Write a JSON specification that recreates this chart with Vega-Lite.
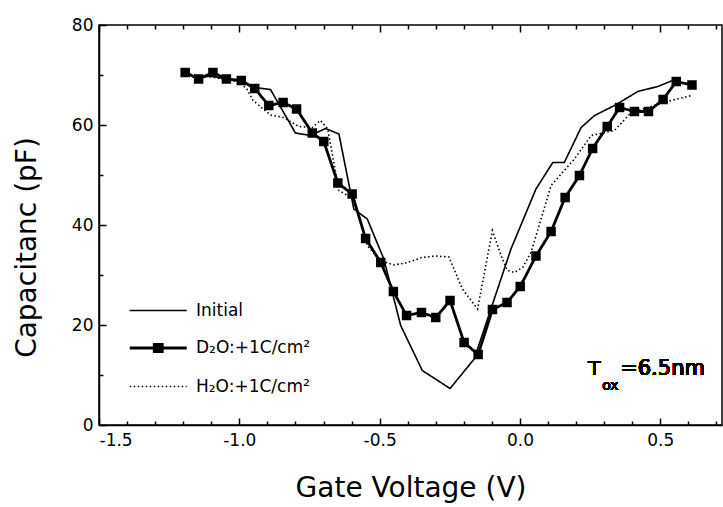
{
  "$schema": "https://vega.github.io/schema/vega-lite/v6.json",
  "width": 623,
  "height": 400,
  "autosize": "none",
  "padding": {"left": 99, "top": 25, "right": 1, "bottom": 82},
  "background": "white",
  "config": {
    "font": "DejaVu Sans",
    "view": {"stroke": "black", "strokeWidth": 1.5},
    "axis": {
      "domainColor": "black", "domainWidth": 1.5, "tickColor": "black", "tickWidth": 1.5,
      "labelColor": "black", "titleColor": "black", "grid": false,
      "labelFont": "DejaVu Sans", "titleFont": "DejaVu Sans", "titleFontWeight": "normal",
      "labelFontSize": 17, "titleFontSize": 28, "labelOverlap": false
    }
  },
  "datasets": {
    "curves": [
      {"s": "Initial", "V": -1.19, "C": 70.3},
      {"s": "Initial", "V": -1.15, "C": 69.5},
      {"s": "Initial", "V": -1.1, "C": 69.8},
      {"s": "Initial", "V": -1.05, "C": 69.2},
      {"s": "Initial", "V": -1.0, "C": 68.8},
      {"s": "Initial", "V": -0.945, "C": 67.5},
      {"s": "Initial", "V": -0.889, "C": 67.1},
      {"s": "Initial", "V": -0.8, "C": 58.4},
      {"s": "Initial", "V": -0.746, "C": 57.9},
      {"s": "Initial", "V": -0.693, "C": 59.3},
      {"s": "Initial", "V": -0.645, "C": 58.2},
      {"s": "Initial", "V": -0.592, "C": 43.2},
      {"s": "Initial", "V": -0.544, "C": 41.2},
      {"s": "Initial", "V": -0.485, "C": 33.2},
      {"s": "Initial", "V": -0.425, "C": 19.9},
      {"s": "Initial", "V": -0.348, "C": 10.9},
      {"s": "Initial", "V": -0.249, "C": 7.3},
      {"s": "Initial", "V": -0.163, "C": 13.2},
      {"s": "Initial", "V": -0.032, "C": 35.2},
      {"s": "Initial", "V": 0.057, "C": 47.2},
      {"s": "Initial", "V": 0.117, "C": 52.5},
      {"s": "Initial", "V": 0.158, "C": 52.5},
      {"s": "Initial", "V": 0.218, "C": 59.5},
      {"s": "Initial", "V": 0.266, "C": 61.9},
      {"s": "Initial", "V": 0.337, "C": 63.9},
      {"s": "Initial", "V": 0.42, "C": 66.7},
      {"s": "Initial", "V": 0.491, "C": 67.7},
      {"s": "Initial", "V": 0.557, "C": 69.2},
      {"s": "D₂O:+1C/cm²", "V": -1.193, "C": 70.5},
      {"s": "D₂O:+1C/cm²", "V": -1.145, "C": 69.2},
      {"s": "D₂O:+1C/cm²", "V": -1.094, "C": 70.5},
      {"s": "D₂O:+1C/cm²", "V": -1.046, "C": 69.2},
      {"s": "D₂O:+1C/cm²", "V": -0.993, "C": 68.9},
      {"s": "D₂O:+1C/cm²", "V": -0.945, "C": 67.3},
      {"s": "D₂O:+1C/cm²", "V": -0.895, "C": 63.9},
      {"s": "D₂O:+1C/cm²", "V": -0.844, "C": 64.5},
      {"s": "D₂O:+1C/cm²", "V": -0.796, "C": 63.2},
      {"s": "D₂O:+1C/cm²", "V": -0.74, "C": 58.4},
      {"s": "D₂O:+1C/cm²", "V": -0.699, "C": 56.7},
      {"s": "D₂O:+1C/cm²", "V": -0.649, "C": 48.4},
      {"s": "D₂O:+1C/cm²", "V": -0.598, "C": 46.2},
      {"s": "D₂O:+1C/cm²", "V": -0.55, "C": 37.3},
      {"s": "D₂O:+1C/cm²", "V": -0.496, "C": 32.5},
      {"s": "D₂O:+1C/cm²", "V": -0.451, "C": 26.7},
      {"s": "D₂O:+1C/cm²", "V": -0.404, "C": 21.9},
      {"s": "D₂O:+1C/cm²", "V": -0.351, "C": 22.5},
      {"s": "D₂O:+1C/cm²", "V": -0.3, "C": 21.5},
      {"s": "D₂O:+1C/cm²", "V": -0.249, "C": 24.9},
      {"s": "D₂O:+1C/cm²", "V": -0.199, "C": 16.5},
      {"s": "D₂O:+1C/cm²", "V": -0.149, "C": 14.1},
      {"s": "D₂O:+1C/cm²", "V": -0.098, "C": 23.1},
      {"s": "D₂O:+1C/cm²", "V": -0.046, "C": 24.5},
      {"s": "D₂O:+1C/cm²", "V": 0.001, "C": 27.7},
      {"s": "D₂O:+1C/cm²", "V": 0.057, "C": 33.8},
      {"s": "D₂O:+1C/cm²", "V": 0.111, "C": 38.7},
      {"s": "D₂O:+1C/cm²", "V": 0.161, "C": 45.5},
      {"s": "D₂O:+1C/cm²", "V": 0.212, "C": 49.9},
      {"s": "D₂O:+1C/cm²", "V": 0.259, "C": 55.3},
      {"s": "D₂O:+1C/cm²", "V": 0.311, "C": 59.7},
      {"s": "D₂O:+1C/cm²", "V": 0.355, "C": 63.5},
      {"s": "D₂O:+1C/cm²", "V": 0.408, "C": 62.7},
      {"s": "D₂O:+1C/cm²", "V": 0.458, "C": 62.7},
      {"s": "D₂O:+1C/cm²", "V": 0.51, "C": 65.1},
      {"s": "D₂O:+1C/cm²", "V": 0.557, "C": 68.7},
      {"s": "D₂O:+1C/cm²", "V": 0.613, "C": 68.0},
      {"s": "H₂O:+1C/cm²", "V": -1.19, "C": 70.2},
      {"s": "H₂O:+1C/cm²", "V": -1.1, "C": 69.6},
      {"s": "H₂O:+1C/cm²", "V": -1.0, "C": 68.6},
      {"s": "H₂O:+1C/cm²", "V": -0.973, "C": 67.2},
      {"s": "H₂O:+1C/cm²", "V": -0.951, "C": 64.9},
      {"s": "H₂O:+1C/cm²", "V": -0.889, "C": 62.0},
      {"s": "H₂O:+1C/cm²", "V": -0.842, "C": 61.5},
      {"s": "H₂O:+1C/cm²", "V": -0.788, "C": 59.7},
      {"s": "H₂O:+1C/cm²", "V": -0.74, "C": 59.5},
      {"s": "H₂O:+1C/cm²", "V": -0.711, "C": 60.9},
      {"s": "H₂O:+1C/cm²", "V": -0.685, "C": 59.2},
      {"s": "H₂O:+1C/cm²", "V": -0.645, "C": 46.9},
      {"s": "H₂O:+1C/cm²", "V": -0.592, "C": 45.2},
      {"s": "H₂O:+1C/cm²", "V": -0.544, "C": 35.9},
      {"s": "H₂O:+1C/cm²", "V": -0.5, "C": 33.0},
      {"s": "H₂O:+1C/cm²", "V": -0.45, "C": 32.0},
      {"s": "H₂O:+1C/cm²", "V": -0.4, "C": 32.5},
      {"s": "H₂O:+1C/cm²", "V": -0.35, "C": 33.5},
      {"s": "H₂O:+1C/cm²", "V": -0.3, "C": 33.8},
      {"s": "H₂O:+1C/cm²", "V": -0.253, "C": 33.6},
      {"s": "H₂O:+1C/cm²", "V": -0.205, "C": 27.2},
      {"s": "H₂O:+1C/cm²", "V": -0.151, "C": 23.2},
      {"s": "H₂O:+1C/cm²", "V": -0.115, "C": 33.9},
      {"s": "H₂O:+1C/cm²", "V": -0.098, "C": 38.9},
      {"s": "H₂O:+1C/cm²", "V": -0.068, "C": 34.0},
      {"s": "H₂O:+1C/cm²", "V": -0.046, "C": 31.0},
      {"s": "H₂O:+1C/cm²", "V": -0.02, "C": 30.5},
      {"s": "H₂O:+1C/cm²", "V": 0.01, "C": 31.5},
      {"s": "H₂O:+1C/cm²", "V": 0.04, "C": 34.6},
      {"s": "H₂O:+1C/cm²", "V": 0.111, "C": 47.9},
      {"s": "H₂O:+1C/cm²", "V": 0.194, "C": 53.2},
      {"s": "H₂O:+1C/cm²", "V": 0.254, "C": 57.9},
      {"s": "H₂O:+1C/cm²", "V": 0.337, "C": 58.9},
      {"s": "H₂O:+1C/cm²", "V": 0.396, "C": 62.5},
      {"s": "H₂O:+1C/cm²", "V": 0.48, "C": 63.9},
      {"s": "H₂O:+1C/cm²", "V": 0.539, "C": 64.9},
      {"s": "H₂O:+1C/cm²", "V": 0.611, "C": 65.9}
    ]
  },
  "data": {"name": "curves"},
  "layer": [
    {
      "mark": {"type": "line", "color": "black"},
      "encoding": {
        "x": {
          "field": "V", "type": "quantitative",
          "scale": {"domain": [-1.5, 0.72], "nice": false, "zero": false},
          "axis": {
            "orient": "bottom",
            "values": [-1.5, -1.4, -1.3, -1.2, -1.1, -1.0, -0.9, -0.8, -0.7, -0.6, -0.5, -0.4, -0.3, -0.2, -0.1, 0, 0.1, 0.2, 0.3, 0.4, 0.5, 0.6, 0.7],
            "labelExpr": "abs(datum.value*2 - round(datum.value*2)) < 0.001 ? replace(format(datum.value, '.1f'), '\u2212', '-') : ''",
            "tickSize": {"condition": {"test": "abs(datum.value*2 - round(datum.value*2)) < 0.001", "value": -7}, "value": -4},
            "labelPadding": 14,
            "title": "Gate Voltage (V)",
            "titleBaseline": "alphabetic",
            "titleY": 71
          }
        },
        "y": {
          "field": "C", "type": "quantitative",
          "scale": {"domain": [0, 80], "nice": false},
          "axis": {
            "values": [0, 10, 20, 30, 40, 50, 60, 70, 80],
            "labelExpr": "datum.value % 20 === 0 ? datum.label : ''",
            "tickSize": {"condition": {"test": "datum.value % 20 === 0", "value": -7}, "value": -4},
            "labelPadding": 13,
            "title": "Capacitanc (pF)",
            "titleBaseline": "alphabetic",
            "titleX": -64,
            "titleY": 222
          }
        },
        "strokeDash": {
          "field": "s", "type": "nominal",
          "scale": {"domain": ["Initial", "D₂O:+1C/cm²", "H₂O:+1C/cm²"], "range": [[1, 0], [1, 0], [1.5, 2.5]]},
          "legend": {
            "orient": "none", "legendX": 29, "legendY": 270, "title": null,
            "labelFont": "DejaVu Sans", "labelFontSize": 17, "labelColor": "black",
            "symbolSize": 812, "labelOffset": 36, "rowPadding": 13, "padding": 0,
            "symbolType": "M-1,0H3", "symbolStrokeColor": "black",
            "encode": {
              "symbols": {
                "update": {
                  "shape": {"signal": "datum.index === 1 ? 'M-1,0H3M0.72,-0.25H1.28V0.25H0.72Z' : 'M-1,0H3'"},
                  "fill": {"value": "black"},
                  "stroke": {"value": "black"},
                  "strokeWidth": {"signal": "datum.index === 1 ? 2.8 : 1.5"}
                }
              }
            }
          }
        },
        "strokeWidth": {
          "field": "s", "type": "nominal",
          "scale": {"type": "ordinal", "domain": ["Initial", "D₂O:+1C/cm²", "H₂O:+1C/cm²"], "range": [1.6, 2.8, 1.6]},
          "legend": null
        }
      }
    },
    {
      "transform": [{"filter": {"field": "s", "equal": "D₂O:+1C/cm²"}}],
      "mark": {"type": "point", "shape": "square", "filled": true, "color": "black", "size": 90, "opacity": 1},
      "encoding": {
        "x": {
          "field": "V", "type": "quantitative",
          "axis": {
            "orient": "top",
            "values": [-1.5, -1.4, -1.3, -1.2, -1.1, -1.0, -0.9, -0.8, -0.7, -0.6, -0.5, -0.4, -0.3, -0.2, -0.1, 0, 0.1, 0.2, 0.3, 0.4, 0.5, 0.6, 0.7],
            "labels": false, "title": null, "domain": false,
            "tickSize": {"condition": {"test": "abs(datum.value*2 - round(datum.value*2)) < 0.001", "value": -7}, "value": -4}
          }
        },
        "y": {"field": "C", "type": "quantitative"}
      }
    },
    {
      "mark": {"type": "text", "font": "DejaVu Sans", "fontSize": 20, "align": "left", "baseline": "alphabetic", "color": "black"},
      "encoding": {
        "x": {"datum": 0.243, "type": "quantitative", "axis": null},
        "y": {"datum": 10, "type": "quantitative"},
        "text": {"value": "T"}
      }
    },
    {
      "mark": {"type": "text", "font": "DejaVu Sans", "fontSize": 14, "align": "left", "baseline": "alphabetic", "color": "black", "dx": 14, "dy": 15},
      "encoding": {
        "x": {"datum": 0.243, "type": "quantitative", "axis": null},
        "y": {"datum": 10, "type": "quantitative"},
        "text": {"value": "ox"}
      }
    },
    {
      "mark": {"type": "text", "font": "DejaVu Sans", "fontSize": 21, "align": "left", "baseline": "alphabetic", "color": "black", "dx": 32},
      "encoding": {
        "x": {"datum": 0.243, "type": "quantitative", "axis": null},
        "y": {"datum": 10, "type": "quantitative"},
        "text": {"value": "=6.5nm"}
      }
    }
  ],
  "resolve": {"axis": {"x": "independent"}}
}
